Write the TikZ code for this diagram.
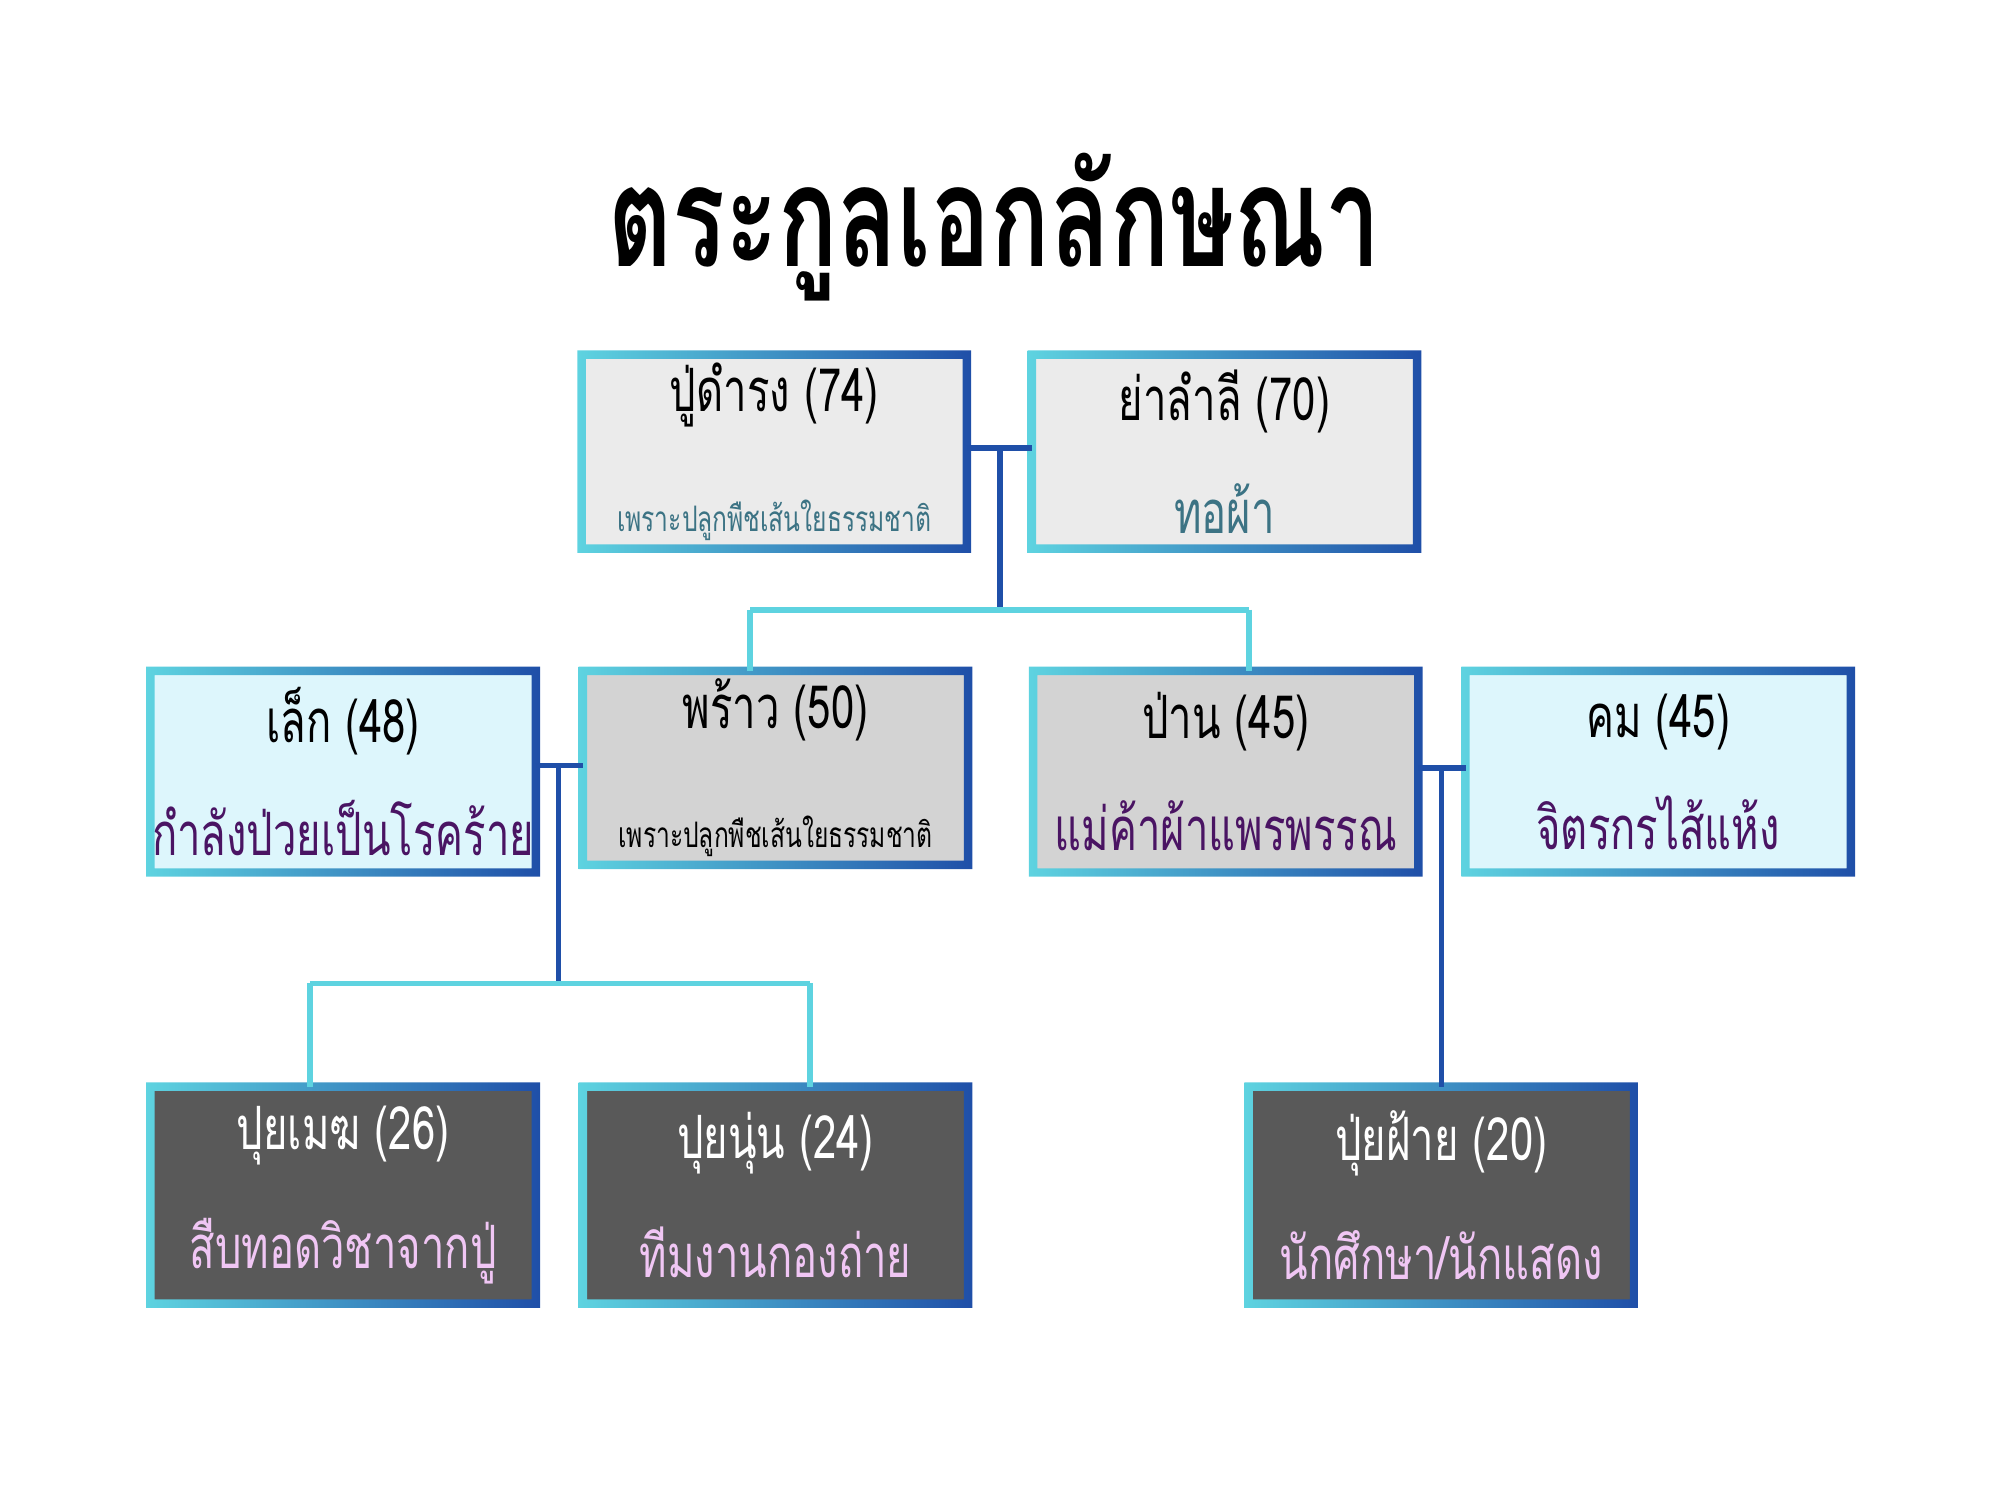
\documentclass[tikz,border=0pt]{standalone}
\usepackage{fontspec}
\setmainfont[Script=Thai,FakeStretch=0.7]{Loma}
\usetikzlibrary{positioning}
\definecolor{lightbox}{HTML}{EBEBEB}
\definecolor{bluebox}{HTML}{DDF6FC}
\definecolor{graybox}{HTML}{D3D3D3}
\definecolor{darkbox}{HTML}{595959}
\definecolor{edgecyan}{HTML}{5ED3E0}
\definecolor{edgeblue}{HTML}{1F4FA8}
\definecolor{subteal}{HTML}{3C7384}
\definecolor{subpurple}{HTML}{4A1463}
\definecolor{subpink}{HTML}{F0C6F4}
\begin{document}
\begin{tikzpicture}[x=0.01276cm,y=-0.01276cm]
\tikzset{
  person/.style={rectangle,minimum width=301*0.01276cm,minimum height=151*0.01276cm,
    align=center,inner sep=0pt,font=\fontsize{17}{22}\selectfont},
  tall/.style={minimum height=157*0.01276cm},
  low/.style={minimum height=169*0.01276cm,fill=darkbox,text=white},
  bar/.style={line width=1.6pt,edgeblue},
  lightbar/.style={line width=1.6pt,edgecyan}
}
\newcommand{\subsmall}[1]{{\fontsize{10}{12}\selectfont #1}}
\useasboundingbox (0,0) rectangle (1568,1176);
\node[font=\fontsize{40}{44}\selectfont\bfseries] (title) at (780,178) {ตระกูลเอกลักษณา};
% generation 1
\node[person,fill=lightbox] (damrong) at (607,354) {ปู่ดำรง (74)\\[12pt]\textcolor{subteal}{\subsmall{เพราะปลูกพืชเส้นใยธรรมชาติ}}};
\node[person,fill=lightbox] (lamli) at (960,354) {ย่าลำลี (70)\\[10pt]\textcolor{subteal}{ทอผ้า}};
% generation 2
\node[person,tall,fill=bluebox] (lek) at (269,605) {เล็ก (48)\\[10pt]\textcolor{subpurple}{กำลังป่วยเป็นโรคร้าย}};
\node[person,fill=graybox] (phrao) at (608,602) {พร้าว (50)\\[12pt]\subsmall{เพราะปลูกพืชเส้นใยธรรมชาติ}};
\node[person,tall,fill=graybox] (parn) at (961,605) {ป่าน (45)\\[10pt]\textcolor{subpurple}{แม่ค้าผ้าแพรพรรณ}};
\node[person,tall,fill=bluebox] (khom) at (1300,605) {คม (45)\\[10pt]\textcolor{subpurple}{จิตรกรไส้แห้ง}};
% generation 3
\node[person,low] (puimek) at (269,937) {ปุยเมฆ (26)\\[12pt]\textcolor{subpink}{สืบทอดวิชาจากปู่}};
\node[person,low] (puinun) at (608,937) {ปุยนุ่น (24)\\[12pt]\textcolor{subpink}{ทีมงานกองถ่าย}};
\node[person,low] (puifai) at (1130,937) {ปุ่ยฝ้าย (20)\\[12pt]\textcolor{subpink}{นักศึกษา/นักแสดง}};
% gradient borders
\foreach \n in {damrong,lamli,lek,phrao,parn,khom,puimek,puinun,puifai}
  \shade[left color=edgecyan,right color=edgeblue,even odd rule]
    ([shift={(-1.2pt,1.2pt)}]\n.north west) rectangle ([shift={(1.2pt,-1.2pt)}]\n.south east)
    ([shift={(1.2pt,-1.2pt)}]\n.north west) rectangle ([shift={(-1.2pt,1.2pt)}]\n.south east);
% connectors
\coordinate (c1) at (784,351);
\coordinate (c1d) at (784,478);
\coordinate (c1l) at (588,478);
\coordinate (c1r) at (979,478);
\draw[bar] (damrong.east |- c1) -- (lamli.west |- c1);
\draw[bar] (c1) -- (c1d);
\draw[lightbar] (c1l) -- (c1r);
\draw[lightbar] (c1l) -- (c1l |- phrao.north);
\draw[lightbar] (c1r) -- (c1r |- parn.north);
\coordinate (c2) at (438,600);
\coordinate (c2d) at (438,771);
\coordinate (c2l) at (243,771);
\coordinate (c2r) at (635,771);
\draw[bar] (lek.east |- c2) -- (phrao.west |- c2);
\draw[bar] (c2) -- (c2d);
\draw[lightbar] (c2l) -- (c2r);
\draw[lightbar] (c2l) -- (c2l |- puimek.north);
\draw[lightbar] (c2r) -- (c2r |- puinun.north);
\coordinate (c3) at (1130,602);
\draw[bar] (parn.east |- c3) -- (khom.west |- c3);
\draw[bar] (c3) -- (puifai.north);
\end{tikzpicture}
\end{document}
